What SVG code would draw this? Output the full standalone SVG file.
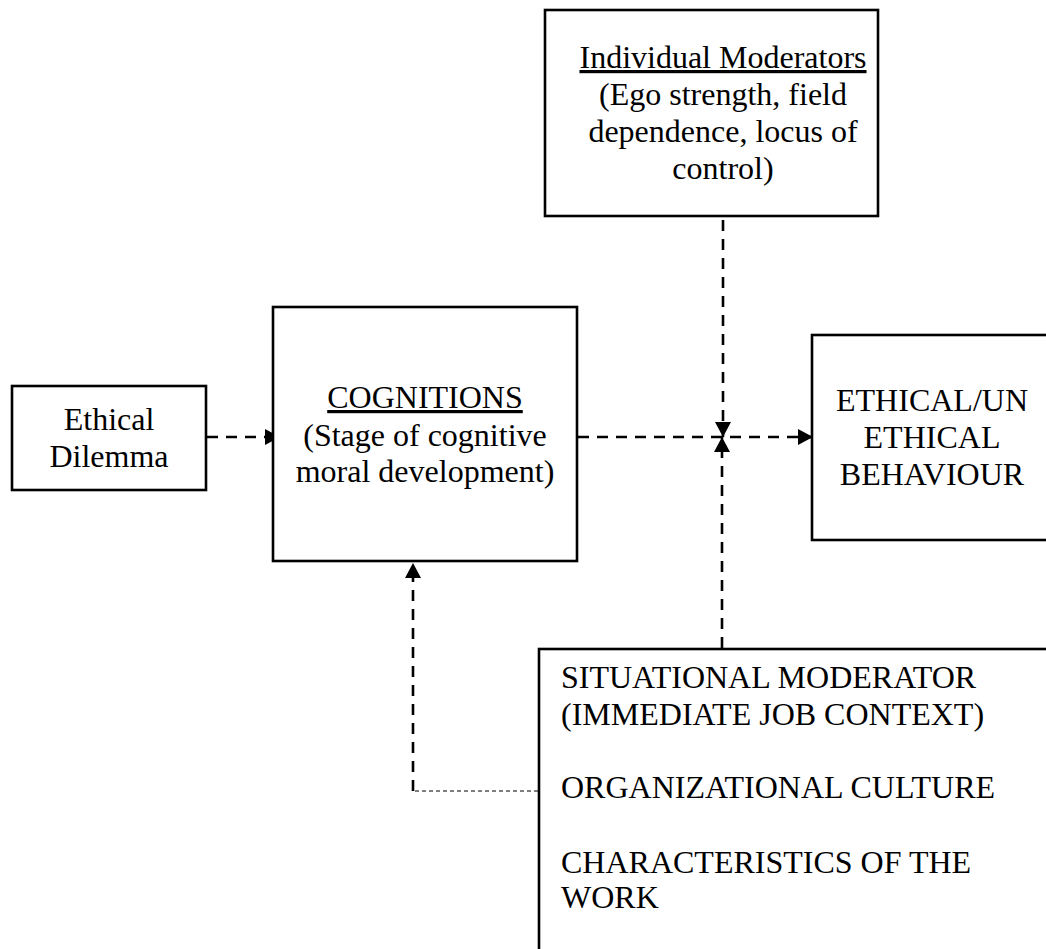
<svg xmlns="http://www.w3.org/2000/svg" width="1046" height="949" viewBox="0 0 1046 949">
  <style>
    .box { fill: #ffffff; stroke: #000000; stroke-width: 2.6; }
    .t { font-family: "Liberation Serif", "Times New Roman", serif; font-size: 32px; fill: #000000; }
    .c { text-anchor: middle; }
    .u { text-decoration: underline; }
    .flow { fill: none; stroke: #000000; stroke-width: 2.6; stroke-dasharray: 11 8; }
    .thin { fill: none; stroke: #000000; stroke-width: 1.2; stroke-dasharray: 4 3; }
  </style>
  <defs>
    <marker id="head" markerUnits="userSpaceOnUse" markerWidth="18" markerHeight="18" refX="15" refY="8" orient="auto">
      <path d="M0,0 L15,8 L0,16 Z" fill="#000000"/>
    </marker>
  </defs>

  <rect width="1046" height="949" fill="#ffffff"/>

  <g id="connectors">
    <!-- Ethical Dilemma to Cognitions -->
    <path class="flow" d="M207,437 H280" marker-end="url(#head)"/>
    <!-- Cognitions to Ethical/Unethical Behaviour -->
    <path class="flow" d="M578,437 H813" marker-end="url(#head)"/>
    <!-- Individual moderators acting on the cognition-behaviour link -->
    <path class="flow" d="M723,220 V437" marker-end="url(#head)"/>
    <!-- Situational moderator acting on the cognition-behaviour link -->
    <path class="flow" d="M722,648 V437" marker-end="url(#head)"/>
    <!-- Organizational culture feeding back to cognitions -->
    <path class="thin" d="M538,791 H412"/>
    <path class="flow" d="M413,791 V563" marker-end="url(#head)"/>
  </g>

  <g id="individual-moderators">
    <rect class="box" x="545" y="10" width="333" height="206"/>
    <text class="t c u" x="723" y="68">Individual Moderators</text>
    <text class="t c" x="723" y="105">(Ego strength, field</text>
    <text class="t c" x="723" y="142">dependence, locus of</text>
    <text class="t c" x="723" y="179">control)</text>
  </g>

  <g id="ethical-dilemma">
    <rect class="box" x="12" y="386" width="194" height="104"/>
    <text class="t c" x="109" y="430">Ethical</text>
    <text class="t c" x="109" y="467">Dilemma</text>
  </g>

  <g id="cognitions">
    <rect class="box" x="273" y="307" width="304" height="254"/>
    <text class="t c u" x="425" y="408">COGNITIONS</text>
    <text class="t c" x="425" y="446">(Stage of cognitive</text>
    <text class="t c" x="425" y="482">moral development)</text>
  </g>

  <g id="behaviour">
    <rect class="box" x="812" y="335" width="250" height="205"/>
    <text class="t c" x="932" y="411">ETHICAL/UN</text>
    <text class="t c" x="932" y="448">ETHICAL</text>
    <text class="t c" x="932" y="485">BEHAVIOUR</text>
  </g>

  <g id="situational-moderator">
    <rect class="box" x="539" y="649" width="520" height="320"/>
    <text class="t" x="561" y="688">SITUATIONAL MODERATOR</text>
    <text class="t" x="561" y="725">(IMMEDIATE JOB CONTEXT)</text>
    <text class="t" x="561" y="798">ORGANIZATIONAL CULTURE</text>
    <text class="t" x="561" y="873">CHARACTERISTICS OF THE</text>
    <text class="t" x="561" y="908">WORK</text>
  </g>
</svg>
